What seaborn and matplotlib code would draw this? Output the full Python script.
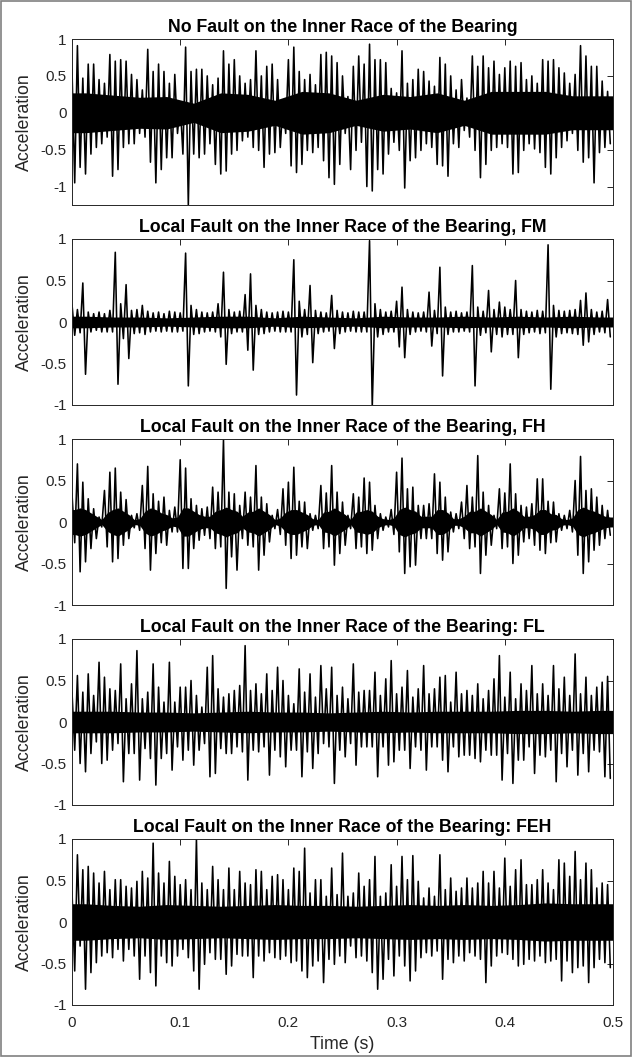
import numpy as np
import pandas as pd
import matplotlib
matplotlib.use("Agg")
import matplotlib.pyplot as plt
from matplotlib.patches import Rectangle
import seaborn as sns

# ---- data: per 5 ms bin, upper / lower extreme of the acceleration signal ----
DT = 0.005  # bin width (s)

titles = [
    "No Fault on the Inner Race of the Bearing",
    "Local Fault on the Inner Race of the Bearing, FM",
    "Local Fault on the Inner Race of the Bearing, FH",
    "Local Fault on the Inner Race of the Bearing: FL",
    "Local Fault on the Inner Race of the Bearing: FEH",
]

hi1 = [0.59, 0.91, 0.47, 0.66, 0.66, 0.45, 0.40, 0.79, 0.70, 0.72,
       0.70, 0.52, 0.45, 0.31, 0.86, 0.56, 0.66, 0.56, 0.40, 0.52,
       0.13, 0.89, 0.56, 0.59, 0.59, 0.50, 0.38, 0.47, 0.84, 0.66,
       0.72, 0.50, 0.40, 0.45, 0.84, 0.50, 0.63, 0.66, 0.45, 0.15,
       0.72, 0.89, 0.56, 0.45, 0.52, 0.38, 0.79, 0.82, 0.77, 0.68,
       0.50, 0.22, 0.63, 0.77, 0.66, 0.93, 0.72, 0.72, 0.68, 0.33,
       0.27, 0.84, 0.40, 0.45, 0.59, 0.56, 0.43, 0.36, 0.75, 0.66,
       0.50, 0.31, 0.45, 0.20, 0.77, 0.63, 0.77, 0.61, 0.70, 0.52,
       0.61, 0.70, 0.63, 0.68, 0.45, 0.50, 0.40, 0.72, 0.70, 0.72,
       0.61, 0.54, 0.40, 0.52, 0.91, 0.77, 0.63, 0.63, 0.43, 0.29]
lo1 = [-0.95, -0.74, -0.83, -0.56, -0.47, -0.42, -0.33, -0.86, -0.77, -0.47,
       -0.42, -0.42, -0.28, -0.33, -0.67, -0.95, -0.77, -0.61, -0.61, -0.28,
       -0.56, -1.25, -0.56, -0.61, -0.56, -0.42, -0.70, -0.83, -0.79, -0.56,
       -0.51, -0.38, -0.33, -0.47, -0.51, -0.74, -0.56, -0.54, -0.47, -0.28,
       -0.72, -0.81, -0.70, -0.51, -0.54, -0.47, -0.65, -0.88, -0.97, -0.70,
       -0.28, -0.77, -0.51, -0.40, -1.00, -1.06, -0.77, -0.83, -0.56, -0.40,
       -0.51, -1.02, -0.65, -0.61, -0.51, -0.42, -0.47, -0.70, -0.72, -0.86,
       -0.42, -0.47, -0.24, -0.33, -0.51, -0.88, -0.70, -0.51, -0.47, -0.42,
       -0.47, -0.83, -0.81, -0.51, -0.42, -0.49, -0.54, -0.74, -0.83, -0.61,
       -0.47, -0.38, -0.28, -0.51, -0.67, -0.61, -0.95, -0.54, -0.47, -0.42]
# half-width of the dense (solid) core band, one value per 25 ms
core1 = [0.27, 0.24, 0.21, 0.22, 0.13, 0.27, 0.25, 0.17, 0.29, 0.27,
         0.17, 0.25, 0.22, 0.27, 0.17, 0.29, 0.29, 0.29, 0.23, 0.23]

hi2 = [0.21, 0.15, 0.47, 0.12, 0.10, 0.12, 0.10, 0.14, 0.84, 0.22,
       0.45, 0.14, 0.15, 0.20, 0.13, 0.11, 0.12, 0.10, 0.13, 0.12,
       0.11, 0.83, 0.20, 0.15, 0.12, 0.11, 0.12, 0.22, 0.60, 0.15,
       0.12, 0.13, 0.33, 0.58, 0.20, 0.15, 0.12, 0.11, 0.12, 0.13,
       0.12, 0.75, 0.25, 0.15, 0.44, 0.14, 0.12, 0.11, 0.32, 0.14,
       0.12, 0.11, 0.13, 0.12, 0.12, 0.98, 0.22, 0.15, 0.12, 0.13,
       0.25, 0.42, 0.15, 0.12, 0.11, 0.12, 0.36, 0.14, 0.66, 0.18,
       0.12, 0.13, 0.11, 0.12, 0.68, 0.18, 0.13, 0.38, 0.15, 0.24,
       0.18, 0.15, 0.50, 0.15, 0.13, 0.12, 0.14, 0.13, 0.93, 0.20,
       0.14, 0.13, 0.14, 0.15, 0.26, 0.35, 0.15, 0.12, 0.13, 0.27]
lo2 = [-0.16, -0.13, -0.63, -0.12, -0.10, -0.12, -0.12, -0.12, -0.75, -0.20,
       -0.44, -0.14, -0.13, -0.15, -0.12, -0.11, -0.12, -0.11, -0.12, -0.12,
       -0.11, -0.77, -0.15, -0.14, -0.12, -0.11, -0.12, -0.18, -0.51, -0.14,
       -0.12, -0.12, -0.34, -0.58, -0.15, -0.14, -0.12, -0.11, -0.12, -0.12,
       -0.12, -0.88, -0.18, -0.15, -0.49, -0.14, -0.12, -0.11, -0.32, -0.14,
       -0.12, -0.11, -0.12, -0.12, -0.12, -1.02, -0.18, -0.15, -0.12, -0.12,
       -0.30, -0.43, -0.15, -0.12, -0.11, -0.12, -0.29, -0.14, -0.65, -0.15,
       -0.12, -0.12, -0.11, -0.12, -0.77, -0.16, -0.13, -0.36, -0.15, -0.18,
       -0.15, -0.15, -0.43, -0.15, -0.13, -0.12, -0.14, -0.13, -0.81, -0.18,
       -0.14, -0.13, -0.14, -0.15, -0.28, -0.24, -0.15, -0.12, -0.13, -0.18]
core2 = [0.07, 0.06, 0.06, 0.05, 0.06, 0.07, 0.07, 0.05, 0.07, 0.06,
         0.05, 0.07, 0.06, 0.06, 0.07, 0.06, 0.07, 0.06, 0.07, 0.06]

hi3 = [0.34, 0.70, 0.48, 0.28, 0.16, 0.06, 0.38, 0.60, 0.65, 0.36,
       0.27, 0.08, 0.10, 0.44, 0.67, 0.34, 0.25, 0.30, 0.14, 0.18,
       0.75, 0.65, 0.28, 0.20, 0.16, 0.18, 0.42, 0.36, 0.99, 0.36,
       0.34, 0.20, 0.36, 0.30, 0.68, 0.30, 0.22, 0.08, 0.15, 0.40,
       0.48, 0.66, 0.25, 0.24, 0.10, 0.08, 0.44, 0.35, 0.68, 0.36,
       0.24, 0.08, 0.34, 0.30, 0.53, 0.48, 0.20, 0.10, 0.06, 0.15,
       0.60, 0.77, 0.40, 0.42, 0.20, 0.20, 0.22, 0.58, 0.48, 0.30,
       0.12, 0.10, 0.24, 0.44, 0.30, 0.80, 0.36, 0.20, 0.08, 0.40,
       0.35, 0.70, 0.34, 0.20, 0.18, 0.22, 0.52, 0.52, 0.25, 0.24,
       0.10, 0.08, 0.14, 0.50, 0.79, 0.38, 0.40, 0.30, 0.20, 0.14]
lo3 = [-0.25, -0.60, -0.48, -0.32, -0.20, -0.06, -0.30, -0.48, -0.44, -0.28,
       -0.20, -0.07, -0.10, -0.32, -0.58, -0.38, -0.25, -0.28, -0.12, -0.12,
       -0.56, -0.56, -0.32, -0.22, -0.16, -0.20, -0.32, -0.30, -0.80, -0.42,
       -0.58, -0.20, -0.28, -0.30, -0.58, -0.40, -0.24, -0.08, -0.15, -0.28,
       -0.44, -0.40, -0.30, -0.32, -0.10, -0.08, -0.32, -0.30, -0.52, -0.38,
       -0.28, -0.08, -0.32, -0.30, -0.38, -0.34, -0.20, -0.10, -0.06, -0.15,
       -0.36, -0.62, -0.54, -0.52, -0.20, -0.20, -0.20, -0.38, -0.46, -0.36,
       -0.12, -0.08, -0.20, -0.32, -0.30, -0.62, -0.40, -0.28, -0.08, -0.32,
       -0.30, -0.50, -0.40, -0.24, -0.20, -0.28, -0.34, -0.38, -0.25, -0.24,
       -0.10, -0.08, -0.12, -0.40, -0.62, -0.48, -0.34, -0.28, -0.20, -0.16]
# FH core band follows the impact bursts, one value per 5 ms bin
core3 = [0.15, 0.17, 0.15, 0.11, 0.07, 0.03, 0.11, 0.15, 0.17, 0.13,
         0.09, 0.03, 0.04, 0.13, 0.17, 0.15, 0.11, 0.09, 0.05, 0.06,
         0.17, 0.17, 0.13, 0.09, 0.07, 0.07, 0.13, 0.15, 0.18, 0.15,
         0.13, 0.07, 0.12, 0.13, 0.17, 0.13, 0.09, 0.03, 0.05, 0.12,
         0.15, 0.15, 0.12, 0.09, 0.04, 0.03, 0.12, 0.13, 0.17, 0.13,
         0.09, 0.03, 0.12, 0.13, 0.15, 0.13, 0.07, 0.04, 0.03, 0.05,
         0.15, 0.18, 0.15, 0.13, 0.07, 0.07, 0.07, 0.15, 0.15, 0.11,
         0.04, 0.04, 0.07, 0.13, 0.13, 0.17, 0.13, 0.09, 0.03, 0.12,
         0.13, 0.17, 0.13, 0.07, 0.07, 0.09, 0.15, 0.15, 0.10, 0.09,
         0.04, 0.03, 0.05, 0.15, 0.18, 0.15, 0.13, 0.10, 0.07, 0.06]

hi4 = [0.36, 0.56, 0.36, 0.58, 0.32, 0.72, 0.54, 0.40, 0.38, 0.70,
       0.28, 0.46, 0.86, 0.28, 0.36, 0.70, 0.42, 0.24, 0.72, 0.24,
       0.42, 0.42, 0.50, 0.32, 0.18, 0.66, 0.80, 0.40, 0.30, 0.34,
       0.38, 0.44, 0.92, 0.38, 0.46, 0.34, 0.58, 0.38, 0.66, 0.50,
       0.32, 0.22, 0.64, 0.36, 0.58, 0.30, 0.68, 0.40, 0.66, 0.32,
       0.42, 0.28, 0.70, 0.36, 0.38, 0.38, 0.60, 0.32, 0.52, 0.74,
       0.34, 0.42, 0.62, 0.30, 0.40, 0.68, 0.34, 0.40, 0.54, 0.56,
       0.24, 0.60, 0.34, 0.38, 0.32, 0.46, 0.28, 0.38, 0.52, 0.80,
       0.30, 0.60, 0.28, 0.46, 0.38, 0.68, 0.34, 0.46, 0.32, 0.68,
       0.40, 0.54, 0.32, 0.82, 0.34, 0.54, 0.32, 0.42, 0.48, 0.55]
lo4 = [-0.34, -0.50, -0.60, -0.38, -0.24, -0.50, -0.46, -0.34, -0.26, -0.72,
       -0.38, -0.38, -0.70, -0.32, -0.44, -0.76, -0.44, -0.38, -0.58, -0.30,
       -0.46, -0.34, -0.52, -0.34, -0.26, -0.66, -0.62, -0.32, -0.38, -0.38,
       -0.30, -0.36, -0.70, -0.34, -0.36, -0.30, -0.64, -0.34, -0.42, -0.54,
       -0.34, -0.34, -0.66, -0.36, -0.56, -0.38, -0.26, -0.30, -0.74, -0.34,
       -0.42, -0.26, -0.52, -0.30, -0.30, -0.30, -0.66, -0.30, -0.52, -0.48,
       -0.34, -0.34, -0.56, -0.30, -0.34, -0.58, -0.30, -0.30, -0.46, -0.60,
       -0.30, -0.42, -0.40, -0.40, -0.44, -0.48, -0.34, -0.40, -0.40, -0.70,
       -0.38, -0.74, -0.46, -0.46, -0.30, -0.62, -0.40, -0.42, -0.34, -0.72,
       -0.38, -0.54, -0.34, -0.64, -0.38, -0.60, -0.34, -0.36, -0.66, -0.68]
core4 = [0.13, 0.13, 0.12, 0.12, 0.11, 0.12, 0.13, 0.12, 0.12, 0.11,
         0.12, 0.13, 0.12, 0.13, 0.13, 0.13, 0.14, 0.14, 0.13, 0.14]

hi5 = [0.37, 0.81, 0.63, 0.67, 0.59, 0.47, 0.61, 0.39, 0.51, 0.51,
       0.43, 0.41, 0.49, 0.61, 0.53, 0.95, 0.59, 0.47, 0.73, 0.55,
       0.45, 0.51, 0.39, 1.00, 0.47, 0.39, 0.67, 0.51, 0.39, 0.65,
       0.39, 0.61, 0.47, 0.45, 0.63, 0.61, 0.39, 0.55, 0.57, 0.51,
       0.39, 0.65, 0.61, 0.89, 0.35, 0.51, 0.51, 0.31, 0.65, 0.33,
       0.83, 0.31, 0.35, 0.59, 0.43, 0.51, 0.79, 0.31, 0.35, 0.69,
       0.43, 0.79, 0.51, 0.80, 0.49, 0.29, 0.41, 0.31, 0.81, 0.39,
       0.53, 0.37, 0.41, 0.53, 0.41, 0.47, 0.61, 0.47, 0.61, 0.41,
       0.77, 0.43, 0.63, 0.75, 0.45, 0.45, 0.51, 0.63, 0.47, 0.39,
       0.75, 0.71, 0.55, 0.85, 0.51, 0.71, 0.63, 0.41, 0.47, 0.45]
lo5 = [-0.59, -0.29, -0.81, -0.61, -0.49, -0.41, -0.37, -0.43, -0.33, -0.47,
       -0.33, -0.41, -0.69, -0.41, -0.61, -0.77, -0.41, -0.49, -0.53, -0.41,
       -0.33, -0.43, -0.59, -0.81, -0.51, -0.37, -0.45, -0.45, -0.63, -0.53,
       -0.39, -0.41, -0.41, -0.67, -0.41, -0.47, -0.37, -0.43, -0.45, -0.41,
       -0.49, -0.47, -0.59, -0.67, -0.53, -0.47, -0.73, -0.45, -0.51, -0.41,
       -0.49, -0.29, -0.43, -0.41, -0.47, -0.61, -0.81, -0.69, -0.45, -0.65,
       -0.41, -0.53, -0.71, -0.59, -0.43, -0.37, -0.41, -0.35, -0.69, -0.45,
       -0.49, -0.41, -0.47, -0.37, -0.41, -0.45, -0.73, -0.53, -0.41, -0.37,
       -0.39, -0.45, -0.53, -0.51, -0.45, -0.47, -0.41, -0.49, -0.47, -0.45,
       -0.71, -0.47, -0.61, -0.55, -0.53, -0.73, -0.55, -0.45, -0.49, -0.55]
core5 = [0.22, 0.20, 0.19, 0.21, 0.20, 0.19, 0.20, 0.21, 0.20, 0.20,
         0.19, 0.20, 0.21, 0.20, 0.21, 0.20, 0.21, 0.23, 0.22, 0.22]

y_limits = [(-1.25, 1.0), (-1.0, 1.0), (-1.0, 1.0), (-1.0, 1.0), (-1.0, 1.0)]
y_ticks = [-1, -0.5, 0, 0.5, 1]
y_tick_labels = ["-1", "-0.5", "0", "0.5", "1"]
x_ticks = [0, 0.1, 0.2, 0.3, 0.4, 0.5]
x_tick_labels = ["0", "0.1", "0.2", "0.3", "0.4", "0.5"]

signals = [(hi1, lo1, core1), (hi2, lo2, core2), (hi3, lo3, core3),
           (hi4, lo4, core4), (hi5, lo5, core5)]


def to_frame(hi, lo):
    rows = []
    for i, (h, l) in enumerate(zip(hi, lo)):
        rows.append((i * DT, h))
        rows.append((i * DT + DT / 2, l))
    return pd.DataFrame(rows, columns=["Time (s)", "Acceleration"])


def core_band(core, n_bins):
    c = np.asarray(core, float)
    seg = n_bins * DT / len(c)
    t = (np.arange(len(c)) + 0.5) * seg
    # extend the first/last band value to the plot edges
    t = np.concatenate([[0.0], t, [n_bins * DT]])
    c = np.concatenate([[c[0]], c, [c[-1]]])
    return t, c


# ---- style ----
sns.set_theme(style="white")
plt.rcParams["font.family"] = ["Liberation Sans", "DejaVu Sans"]
plt.rcParams["axes.unicode_minus"] = False
INK = "#262626"

W, H = 632, 1057
fig = plt.figure(figsize=(W / 100, H / 100), dpi=100)
fig.patch.set_facecolor("white")

left_px, width_px, height_px = 72, 541, 166
for k, ((hi, lo, core), title, ylim) in enumerate(zip(signals, titles, y_limits)):
    top_px = 39 + 200 * k
    ax = fig.add_axes([left_px / W, 1 - (top_px + height_px) / H,
                       width_px / W, height_px / H])
    tc, c = core_band(core, len(hi))
    ax.fill_between(tc, -c, c, color="black", linewidth=0)
    df = to_frame(hi, lo)
    sns.lineplot(data=df, x="Time (s)", y="Acceleration", ax=ax,
                 color="black", linewidth=1.15, estimator=None, sort=False)
    ax.set_xlim(0, 0.5)
    ax.set_ylim(*ylim)
    ax.set_yticks(y_ticks)
    ax.set_yticklabels(y_tick_labels)
    ax.set_xticks(x_ticks)
    ax.set_xticklabels(x_tick_labels)
    ax.tick_params(direction="in", length=4, width=0.7, top=True, right=True,
                   labelsize=11, colors=INK, pad=4)
    for s in ax.spines.values():
        s.set_color(INK)
        s.set_linewidth(0.7)
    ax.set_title(title, fontsize=12.8, fontweight="bold", color="black", pad=5)
    ax.set_ylabel("Acceleration", fontsize=12.8, color=INK, labelpad=5)
    if k < 4:
        ax.tick_params(labelbottom=False)
        ax.set_xlabel("")
    else:
        ax.tick_params(axis="x", pad=8)
        ax.set_xlabel("Time (s)", fontsize=12.8, color=INK, labelpad=4)

fig.patches.append(Rectangle((0.002, 0.001), 0.996, 0.998, transform=fig.transFigure,
                             fill=False, edgecolor="#808080", linewidth=1.2))

fig.savefig("out.png", dpi=100)
